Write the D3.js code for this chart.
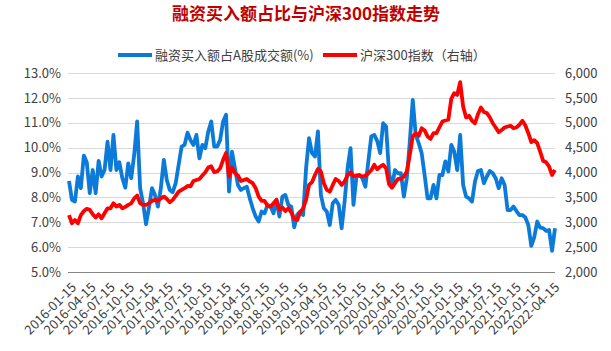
<!DOCTYPE html>
<html>
<head>
<meta charset="utf-8">
<script src="https://cdn.jsdelivr.net/npm/d3@7"></script>
<style>
  body { margin: 0; background: #fff; }
  text { font-family: "Microsoft YaHei", "Noto Sans CJK SC", sans-serif; }
</style>
</head>
<body>
<div id="chart"></div>
<script>
// two-weekly readings starting 2016-01-15
var startDate = "2016-01-15";
var stepDays = 14;

// 融资买入额占A股成交额 (%)
var marginShare = [
  8.66, 7.90, 7.83, 8.84, 8.37, 9.68, 9.41, 8.17, 9.10, 8.17,
  9.47, 8.84, 9.10, 10.24, 9.10, 10.51, 9.10, 9.41, 8.77, 8.39,
  9.37, 8.77, 9.71, 11.05, 8.37, 7.76, 6.92, 7.60, 8.37, 8.10,
  7.63, 8.37, 9.51, 8.70, 8.30, 8.21, 8.57, 9.31, 10.04, 10.11,
  10.60, 10.30, 10.11, 10.51, 9.57, 10.11, 9.98, 10.65, 11.05, 10.04,
  10.04, 10.31, 11.05, 11.32, 8.23, 9.84, 9.17, 8.50, 8.30, 8.37,
  8.43, 7.96, 7.56, 7.23, 7.03, 7.43, 7.36, 7.70, 7.63, 7.36,
  7.90, 7.23, 8.03, 8.10, 7.70, 7.63, 6.80, 7.30, 7.43, 7.29,
  9.17, 10.38, 9.78, 9.64, 10.65, 8.10, 7.56, 7.43, 6.89, 7.76,
  7.90, 7.70, 6.76, 7.83, 9.17, 9.98, 7.70, 8.84, 8.90, 8.77,
  8.43, 9.44, 10.45, 10.51, 10.27, 9.78, 10.98, 10.85, 8.97, 8.43,
  9.10, 8.97, 8.97, 8.03, 8.77, 10.24, 11.92, 10.51, 10.18, 9.78,
  8.90, 7.96, 7.96, 8.50, 7.96, 8.90, 8.90, 9.45, 9.04, 10.11,
  9.84, 9.10, 10.51, 8.50, 8.03, 7.96, 7.83, 8.64, 9.06, 9.10,
  8.57, 8.84, 9.06, 8.97, 8.77, 8.37, 8.77, 8.50, 7.49, 7.49,
  7.63, 7.45, 7.29, 7.29, 7.19, 6.89, 6.05, 6.40, 7.03, 6.78,
  6.76, 6.65, 6.69, 5.85, 6.76
];

// 沪深300指数 (right axis)
var csi300 = [
  3145, 2980, 3045, 2980, 3145, 3225, 3270, 3250, 3160, 3095,
  3160, 3080, 3180, 3280, 3280, 3380, 3315, 3350, 3280, 3310,
  3350, 3380, 3480, 3535, 3380, 3350, 3350, 3380, 3430, 3450,
  3430, 3480, 3515, 3470, 3400, 3450, 3530, 3615, 3650, 3685,
  3730, 3720, 3830, 3850, 3870, 3940, 4005, 4100, 4125, 4005,
  4020, 4085, 4255, 4390, 3920, 4100, 3985, 3940, 3830, 3850,
  3870, 3820, 3785, 3685, 3515, 3430, 3430, 3330, 3315, 3380,
  3450, 3250, 3295, 3225, 3280, 3200, 3065, 3045, 3200, 3280,
  3450, 3750, 3805, 3950, 4070, 4020, 3785, 3650, 3615, 3750,
  3870, 3830, 3750, 3820, 3940, 4000, 3920, 3940, 3940, 3920,
  3930, 3985, 4045, 4155, 4065, 4120, 4155, 4085, 3765, 3695,
  3785, 3870, 3870, 3920, 4020, 4355, 4725, 4790, 4735, 4890,
  4845, 4725, 4675, 4790, 4790, 4910, 5025, 5045, 5060, 5480,
  5595, 5560, 5815, 5325, 5105, 5140, 5040, 4990, 5170, 5305,
  5215, 5195, 5110, 4990, 4905, 4810, 4855, 4905, 4925, 4940,
  4890, 4905, 4960, 5040, 4945, 4790, 4610, 4650, 4590, 4420,
  4235, 4205, 4120, 3950, 4050
];

var tickLabels = [
  "2016-01-15", "2016-04-15", "2016-07-15", "2016-10-15",
  "2017-01-15", "2017-04-15", "2017-07-15", "2017-10-15",
  "2018-01-15", "2018-04-15", "2018-07-15", "2018-10-15",
  "2019-01-15", "2019-04-15", "2019-07-15", "2019-10-15",
  "2020-01-15", "2020-04-15", "2020-07-15", "2020-10-15",
  "2021-01-15", "2021-04-15", "2021-07-15", "2021-10-15",
  "2022-01-15", "2022-04-15"
];

var leftTicks = [5, 6, 7, 8, 9, 10, 11, 12, 13];
var rightTicks = [2000, 2500, 3000, 3500, 4000, 4500, 5000, 5500, 6000];

var title = "融资买入额占比与沪深300指数走势";
var seriesNames = ["融资买入额占A股成交额(%)", "沪深300指数（右轴）"];

var width = 611, height = 351;
var margin = {top: 73, right: 56, bottom: 79, left: 69};

var parse = d3.timeParse("%Y-%m-%d");
var t0 = parse(startDate);
var dates = marginShare.map(function(d, i) { return d3.timeDay.offset(t0, i * stepDays); });

var svg = d3.select("#chart").append("svg")
    .attr("width", width)
    .attr("height", height);

var x = d3.scaleTime()
    .domain(d3.extent(dates))
    .range([margin.left, width - margin.right]);

var yL = d3.scaleLinear()
    .domain([5, 13])
    .range([height - margin.bottom, margin.top]);

var yR = d3.scaleLinear()
    .domain([2000, 6000])
    .range([height - margin.bottom, margin.top]);

// gridlines
svg.append("g")
  .selectAll("line")
  .data(leftTicks)
  .join("line")
    .attr("x1", margin.left - 1)
    .attr("x2", width - margin.right)
    .attr("y1", d => Math.round(yL(d)) + 0.5)
    .attr("y2", d => Math.round(yL(d)) + 0.5)
    .style("stroke", d => d === 5 ? "#868686" : "#d9d9d9")
    .style("stroke-width", 1);

// left axis labels
var leftAxis = d3.axisLeft(yL).tickValues(leftTicks).tickSize(0).tickPadding(8)
    .tickFormat(d => d3.format(".1f")(d) + "%");
svg.append("g")
    .attr("transform", "translate(" + margin.left + ",0)")
    .call(leftAxis)
    .call(g => g.select(".domain").remove())
    .selectAll("text")
      .style("font-size", "13px")
      .style("fill", "#404040");

// right axis labels
var rightAxis = d3.axisRight(yR).tickValues(rightTicks).tickSize(0).tickPadding(10)
    .tickFormat(d3.format(","));
svg.append("g")
    .attr("transform", "translate(" + (width - margin.right) + ",0)")
    .call(rightAxis)
    .call(g => g.select(".domain").remove())
    .selectAll("text")
      .style("font-size", "13px")
      .style("fill", "#404040");

// x axis labels, rotated
svg.append("g")
  .selectAll("text")
  .data(tickLabels)
  .join("text")
    .attr("transform", d => "translate(" + (x(parse(d)) + 5) + "," + (height - margin.bottom + 13) + ") rotate(-45)")
    .attr("text-anchor", "end")
    .attr("dy", "0.35em")
    .style("font-size", "13px")
    .style("fill", "#404040")
    .text(d => d);

// lines
var lineL = d3.line()
    .x((d, i) => x(dates[i]))
    .y(d => yL(d));

var lineR = d3.line()
    .x((d, i) => x(dates[i]))
    .y(d => yR(d));

svg.append("path")
    .datum(marginShare)
    .attr("d", lineL)
    .style("fill", "none")
    .style("stroke", "#0b7ad8")
    .style("stroke-width", 3.8)
    .style("stroke-linejoin", "round");

svg.append("path")
    .datum(csi300)
    .attr("d", lineR)
    .style("fill", "none")
    .style("stroke", "#ff0000")
    .style("stroke-width", 3.8)
    .style("stroke-linejoin", "round");

// title
svg.append("text")
    .attr("x", 306)
    .attr("y", 20)
    .attr("text-anchor", "middle")
    .style("font-size", "17px")
    .style("font-weight", "bold")
    .style("fill", "#c00000")
    .text(title);

// legend
var legendColors = ["#0b7ad8", "#ff0000"];
var legendX = [118, 323];
var legend = svg.append("g")
  .selectAll("g")
  .data(seriesNames)
  .join("g")
    .attr("transform", (d, i) => "translate(" + legendX[i] + ",55)");

legend.append("line")
    .attr("x1", 0).attr("x2", 34)
    .style("stroke", (d, i) => legendColors[i])
    .style("stroke-width", 4);

legend.append("text")
    .attr("x", 37)
    .attr("dy", "0.35em")
    .style("font-size", "13px")
    .style("fill", "#404040")
    .text(d => d);
</script>
</body>
</html>
